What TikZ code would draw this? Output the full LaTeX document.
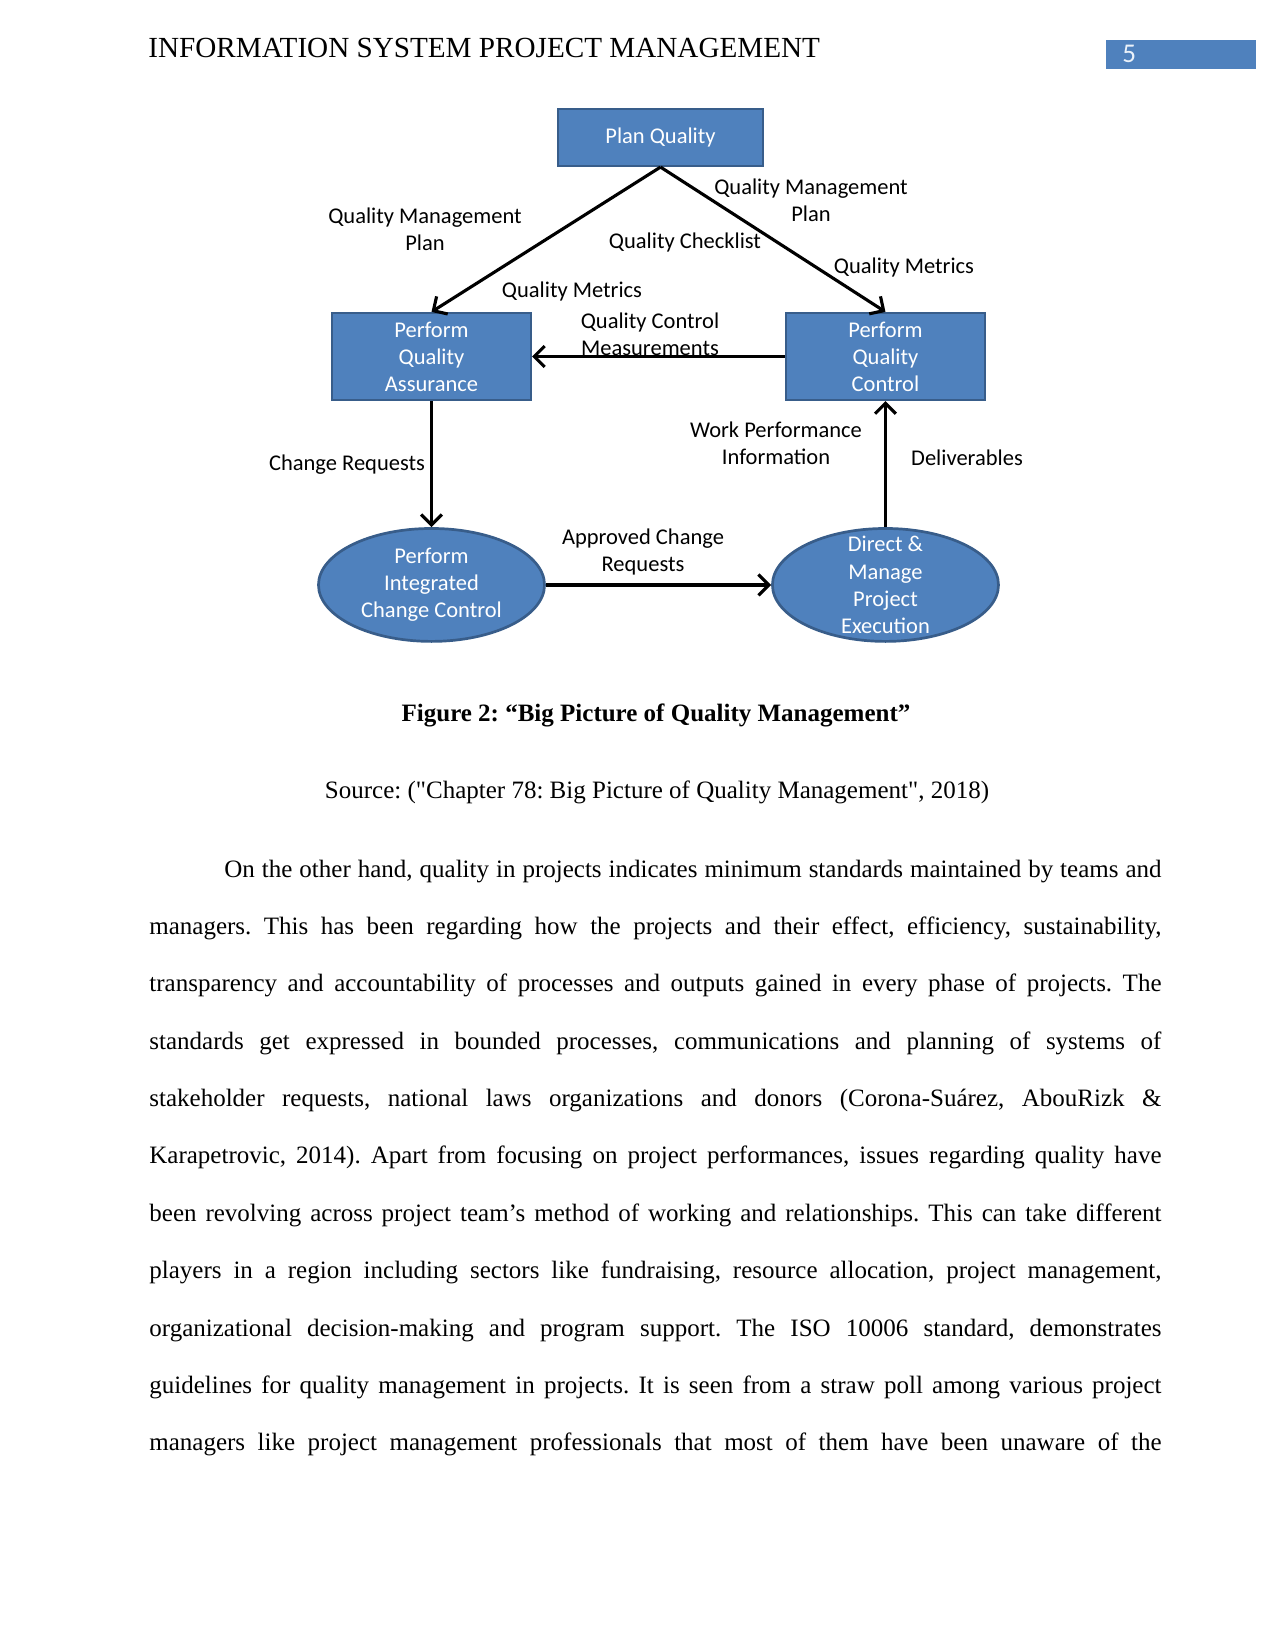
\documentclass[tikz,border=0pt]{standalone}
\usepackage{fontspec}
\setmainfont{Liberation Serif}
\newfontfamily\srcfont{Liberation Serif}
\newfontfamily\diagfont{Carlito}
\usetikzlibrary{positioning,shapes.geometric,arrows.meta}
\definecolor{officeblue}{RGB}{79,129,189}
\definecolor{officeedge}{RGB}{56,93,138}
\definecolor{numwhite}{RGB}{235,242,250}
\newcommand{\bodyline}[2][485.8pt]{{\spaceskip=0pt\xspaceskip=0pt\makebox[#1][s]{#2}}}
\frenchspacing

\begin{document}
\begin{tikzpicture}[x=0.48pt,y=-0.48pt,
  every node/.style={inner sep=0pt},
  dfont/.style={font=\diagfont\fontsize{10.8}{13}\selectfont},
  procbox/.style={dfont,draw=officeedge,line width=1pt,fill=officeblue,text=white,align=center,minimum width=95.5pt,minimum height=41.8pt},
  procell/.style={ellipse,draw=officeedge,line width=1.3pt,fill=officeblue,minimum width=108.5pt,minimum height=54.2pt},
  celltext/.style={dfont,text=white,align=center},
  lbl/.style={dfont,align=center},
  flow/.style={-{Straight Barb[length=5pt,width=10pt]},line width=1.5pt}
]
  \useasboundingbox (0,0) rectangle (1275,1650);

  \node[anchor=base west,font=\fontsize{14}{16}\selectfont] (header) at (148,58) {INFORMATION SYSTEM PROJECT MANAGEMENT};
  \node[anchor=north west,fill=officeblue,minimum width=72pt,minimum height=13.9pt] (pagebox) at (1106,40) {};
  \node[anchor=base west,text=numwhite,font=\diagfont\fontsize{13}{15}\selectfont] (pagenum) at (1122,63) {5};

  \node[procbox,minimum width=98.4pt,minimum height=27.4pt] (plan) at (660.5,137.5) {\raisebox{-1pt}{Plan Quality}};
  \node[procbox] (pqa) at (431.5,356.5) {Perform\\Quality\\Assurance};
  \node[procbox,right=121.4pt of pqa] (pqc) {Perform\\Quality\\Control};
  \node[procell,below=60.5pt of pqa] (picc) {};
  \node[procell,below=60.5pt of pqc] (dmpe) {};
  \node[celltext] (picctext) at (picc) {Perform\\Integrated\\Change Control};
  \node[celltext] (dmpetext) at (dmpe) {Direct \&\\Manage\\Project\\Execution};

  \draw[flow] (plan.south) -- (pqa.north);
  \draw[flow] (plan.south) -- (pqc.north);
  \draw[flow] (pqc.west) -- (pqa.east);
  \draw[flow] (pqa.south) -- (picc.north);
  \draw[flow] (dmpe.north) -- (pqc.south);
  \draw[flow] (picc.east) -- (dmpe.west);

  \node[lbl] (lqmp) at (425,229) {Quality Management\\Plan};
  \node[lbl] (rqmp) at (811,200) {Quality Management\\Plan};
  \node[lbl] (checklist) at (685,243) {Quality Checklist};
  \node[lbl] (rmetrics) at (904,268) {Quality Metrics};
  \node[lbl] (lmetrics) at (572,292) {Quality Metrics};
  \node[lbl] (qcm) at (650,334) {Quality Control\\Measurements};
  \node[lbl] (wpi) at (776,443) {Work Performance\\Information};
  \node[lbl] (deliver) at (967,458) {Deliverables};
  \node[lbl] (chreq) at (347,465) {Change Requests};
  \node[lbl] (acr) at (643,552) {Approved Change\\Requests};

  \node[anchor=base,font=\bfseries\fontsize{12}{14}\selectfont] (caption) at (656,721) {Figure 2: “Big Picture of Quality Management”};
  \node[anchor=base,font=\srcfont\fontsize{12}{14}\selectfont] (source) at (657,798) {Source: ("Chapter 78: Big Picture of Quality Management", 2018)};

  \node[anchor=base west,text width=485.8pt,align=left,font=\fontsize{12}{27.55}\selectfont] (para) at (149,877) {%
\hspace*{36pt}\bodyline[449.8pt]{On the other hand, quality in projects indicates minimum standards maintained by teams and}\\
\bodyline{managers. This has been regarding how the projects and their effect, efficiency, sustainability,}\\
\bodyline{transparency and accountability of processes and outputs gained in every phase of projects. The}\\
\bodyline{standards get expressed in bounded processes, communications and planning of systems of}\\
\bodyline{stakeholder requests, national laws organizations and donors (Corona-Suárez, AbouRizk \&}\\
\bodyline{Karapetrovic, 2014). Apart from focusing on project performances, issues regarding quality have}\\
\bodyline{been revolving across project team’s method of working and relationships. This can take different}\\
\bodyline{players in a region including sectors like fundraising, resource allocation, project management,}\\
\bodyline{organizational decision-making and program support. The ISO 10006 standard, demonstrates}\\
\bodyline{guidelines for quality management in projects. It is seen from a straw poll among various project}\\
\bodyline{managers like project management professionals that most of them have been unaware of the}};
\end{tikzpicture}
\end{document}
